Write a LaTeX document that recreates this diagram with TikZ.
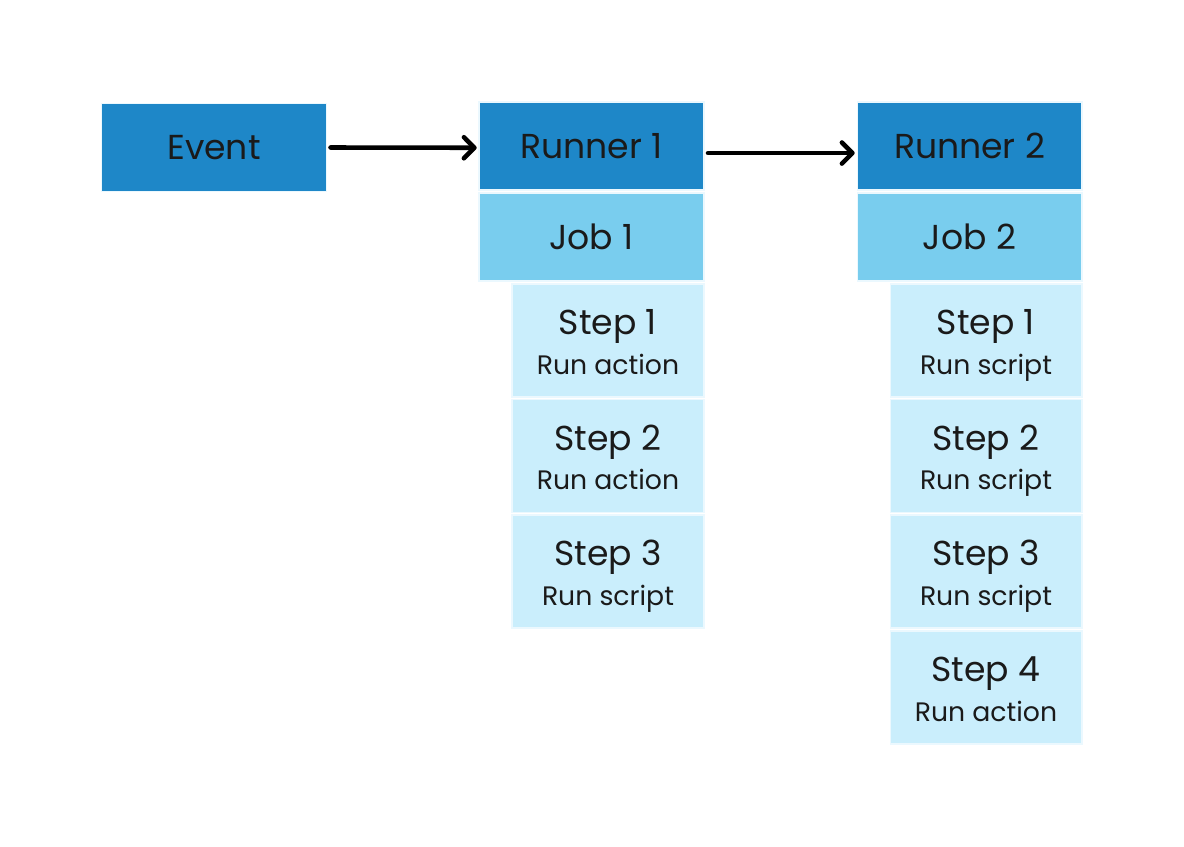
\documentclass[tikz,border=0pt]{standalone}
\usepackage{fontspec}
\setmainfont{Poppins}
\usetikzlibrary{arrows.meta}

\definecolor{runnerblue}{HTML}{1E87C8}
\definecolor{jobblue}{HTML}{79CDEE}
\definecolor{stepblue}{HTML}{CAEEFC}
\definecolor{ink}{HTML}{1A1A1A}

\tikzset{
  box/.style={draw=cyan!8, line width=0.6pt, inner sep=0pt, text=ink,
    minimum width=4.5cm, minimum height=1.76cm, font=\fontsize{19.7}{23.5}\selectfont},
  runnerbox/.style={box, fill=runnerblue},
  jobbox/.style={box, fill=jobblue},
  stepbox/.style={box, fill=stepblue, align=center,
    minimum width=3.84cm, minimum height=2.26cm},
  flow/.style={line width=2.6pt, line cap=round,
    -{Straight Barb[length=6pt, width=12pt, round]}},
}
\newcommand{\stepline}[2]{\rule{0pt}{20pt}#1\\[-1pt]{\fontsize{15.2}{18}\selectfont #2\vphantom{p}}}

\begin{document}
\begin{tikzpicture}[x=0.02cm, y=-0.02cm]
    \useasboundingbox (0,0) rectangle (1184,846);

    % Event
    \node[runnerbox] (event) at (214,147.5) {Event};

    % Runner 1 and its job
    \node[runnerbox] (runner1) at (591.5,146) {Runner 1};
    \node[jobbox] (job1) at (591.5,237) {Job 1};
    \node[stepbox] (r1step1) at (608,340.5) {\stepline{Step 1}{Run action}};
    \node[stepbox] (r1step2) at (608,456) {\stepline{Step 2}{Run action}};
    \node[stepbox] (r1step3) at (608,571.5) {\stepline{Step 3}{Run script}};

    % Runner 2 and its job
    \node[runnerbox] (runner2) at (969.5,146) {Runner 2};
    \node[jobbox] (job2) at (969.5,237) {Job 2};
    \node[stepbox] (r2step1) at (986,340.5) {\stepline{Step 1}{Run script}};
    \node[stepbox] (r2step2) at (986,456) {\stepline{Step 2}{Run script}};
    \node[stepbox] (r2step3) at (986,571.5) {\stepline{Step 3}{Run script}};
    \node[stepbox] (r2step4) at (986,687.5) {\stepline{Step 4}{Run action}};

    % Flow
    \draw[flow] ([xshift=2pt]event.east) -- ([xshift=-1pt,yshift=-1pt]runner1.west);
    \draw[flow] ([xshift=2pt,yshift=-4pt]runner1.east) -- ([xshift=-1pt,yshift=-4pt]runner2.west);
\end{tikzpicture}
\end{document}
